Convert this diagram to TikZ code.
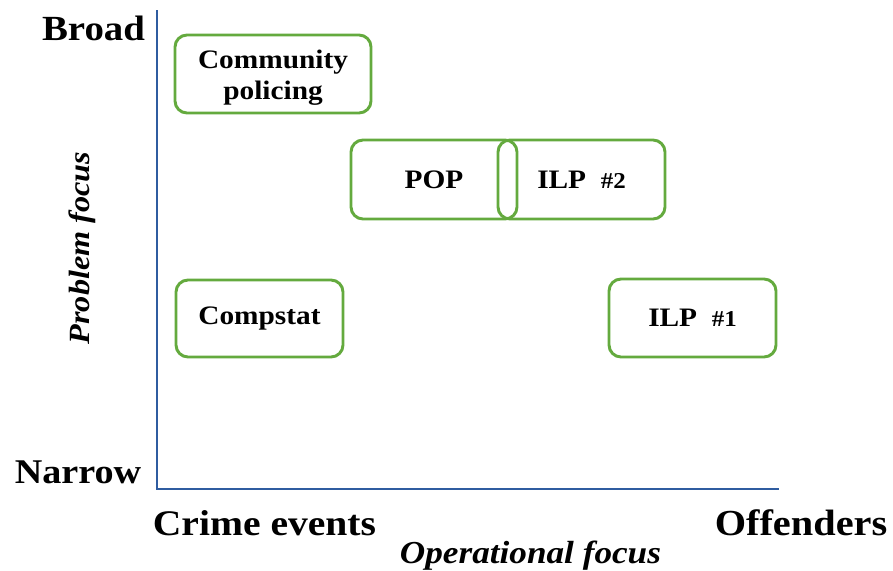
\documentclass[tikz,border=0pt]{standalone}
\usepackage{fontspec}
\setmainfont[FakeStretch=1.1]{Liberation Serif}
\definecolor{boxgreen}{RGB}{100,170,62}
\definecolor{axisblue}{RGB}{47,92,160}

\begin{document}
\begin{tikzpicture}[x=0.75pt,y=-0.75pt,
  catbox/.style={draw=boxgreen, line width=2.2pt, rounded corners=9pt,
                 inner sep=0pt, align=center,
                 font=\fontsize{20}{23.5}\selectfont\bfseries},
  axislabel/.style={inner sep=0pt, font=\fontsize{27}{29}\selectfont\bfseries},
  axistitle/.style={inner sep=0pt, font=\fontsize{22}{24}\selectfont\bfseries\itshape},
  axisline/.style={draw=axisblue, line width=0.9pt}]
\useasboundingbox (0,0) rectangle (893,571);

% axes
\coordinate (ytop) at (157,10);
\coordinate (orig) at (157,489);
\coordinate (xend) at (779,489);
\draw[axisline] (ytop) -- (orig) -- (xend);

% axis end labels
\node[axislabel, font=\fontsize{26.5}{28}\selectfont\bfseries] (broad) at (93.5,28) {Broad};
\node[axislabel, font=\fontsize{26}{28}\selectfont\bfseries] (narrow) at (78,472) {Narrow};
\node[axislabel] (crime) at (264.5,523) {Crime events};
\node[axislabel, font=\fontsize{27.5}{29}\selectfont\bfseries] (offenders) at (801,523) {Offenders};

% axis titles
\node[axistitle, font=\fontsize{24}{26}\selectfont\bfseries\itshape] (opfocus) at (530.5,556) {Operational focus};
\node[axistitle, rotate=90] (probfocus) at (82,248) {Problem focus};

% strategy boxes
\node[catbox, minimum width=147pt, minimum height=58.5pt] (community) at (273,74) {};
\node[catbox, draw=none] (communitytext) at (273,78) {Community\\policing};
\node[catbox, minimum width=124.5pt, minimum height=59.25pt] (pop) at (434,179.5)
  {POP};
\node[catbox, minimum width=125.25pt, minimum height=59.25pt] (ilp2) at (581.5,179.5)
  {ILP~~{\fontsize{17}{20}\selectfont\#2}};
\node[catbox, minimum width=125.25pt, minimum height=57.75pt] (compstat) at (259.5,318.5) {Compstat};
\node[catbox, minimum width=125.25pt, minimum height=58.5pt] (ilp1) at (692.5,318)
  {ILP~~{\fontsize{17}{20}\selectfont\#1}};
\end{tikzpicture}
\end{document}
